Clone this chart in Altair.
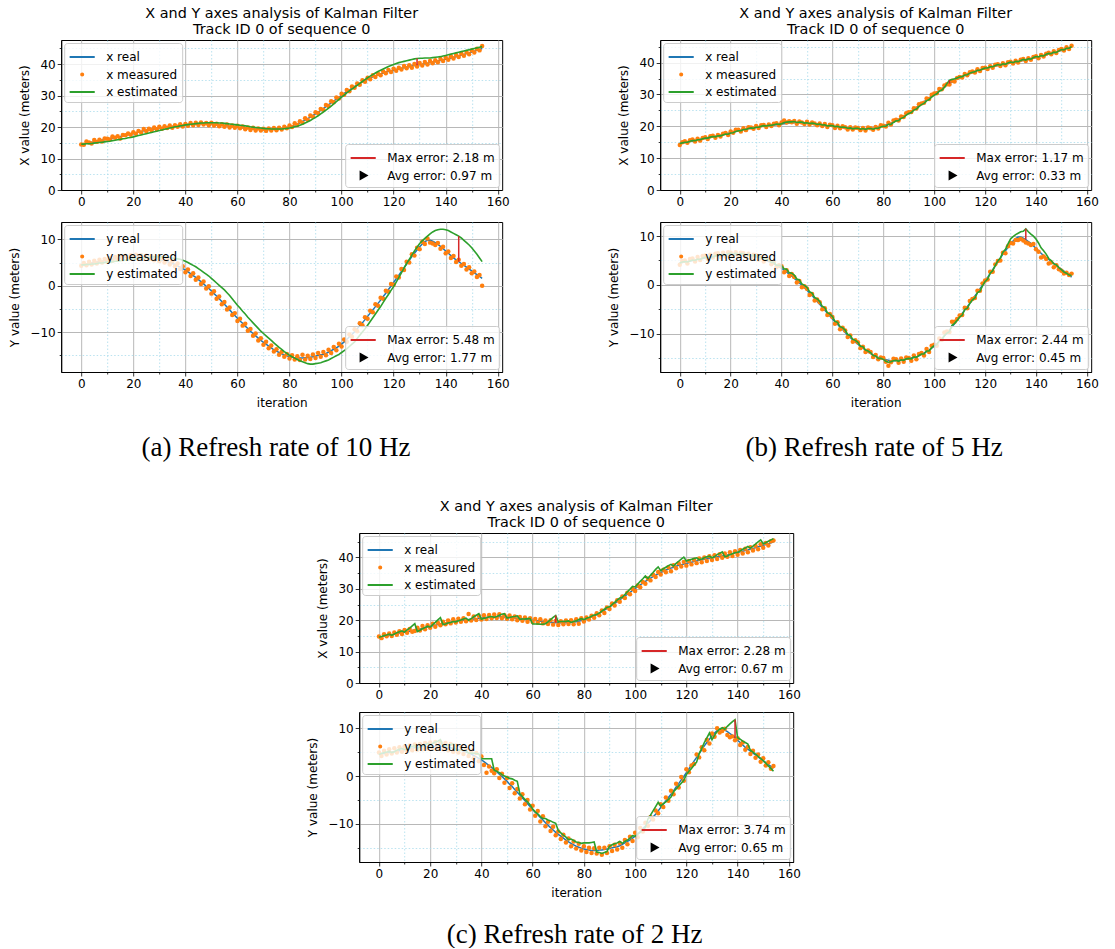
import altair as alt
import pandas as pd

ITER = list(range(155))

REAL_X = [14.6,14.7,14.9,15.0,15.2,15.3,15.5,15.7,15.9,16.0,
 16.2,16.4,16.5,16.7,16.9,17.0,17.2,17.4,17.6,17.8,
 18.0,18.2,18.4,18.6,18.8,19.0,19.1,19.3,19.4,19.6,
 19.7,19.8,19.9,20.0,20.1,20.2,20.3,20.4,20.5,20.6,
 20.7,20.8,20.9,21.0,21.0,21.1,21.1,21.1,21.1,21.0,
 21.0,20.9,20.8,20.7,20.6,20.5,20.4,20.3,20.2,20.1,
 20.0,19.9,19.8,19.7,19.6,19.5,19.4,19.3,19.3,19.2,
 19.2,19.2,19.2,19.2,19.3,19.3,19.4,19.5,19.7,19.9,
 20.1,20.4,20.7,21.0,21.4,21.8,22.2,22.7,23.2,23.7,
 24.2,24.8,25.3,25.9,26.5,27.1,27.7,28.3,28.9,29.5,
 30.1,30.7,31.3,31.8,32.4,32.9,33.4,33.9,34.4,34.8,
 35.2,35.6,36.0,36.3,36.6,36.9,37.2,37.5,37.7,37.9,
 38.1,38.3,38.5,38.7,38.9,39.1,39.2,39.4,39.6,39.7,
 39.9,40.0,40.2,40.3,40.5,40.7,40.8,41.0,41.2,41.4,
 41.6,41.8,42.0,42.2,42.4,42.7,42.9,43.1,43.4,43.6,
 43.9,44.1,44.4,44.7,45.0]

REAL_Y = [4.5,4.6,4.7,4.8,4.9,5.0,5.1,5.2,5.3,5.4,
 5.5,5.6,5.7,5.8,5.9,6.0,6.0,6.1,6.1,6.2,
 6.2,6.2,6.2,6.2,6.2,6.1,6.1,6.0,5.9,5.8,
 5.7,5.5,5.4,5.2,5.0,4.8,4.6,4.3,4.0,3.7,
 3.4,3.0,2.6,2.2,1.8,1.3,0.9,0.4,-0.1,-0.6,
 -1.1,-1.7,-2.2,-2.8,-3.4,-4.0,-4.6,-5.2,-5.8,-6.4,
 -7.0,-7.6,-8.1,-8.7,-9.2,-9.8,-10.3,-10.8,-11.3,-11.8,
 -12.2,-12.6,-13.0,-13.4,-13.8,-14.1,-14.4,-14.7,-14.9,-15.1,
 -15.3,-15.4,-15.5,-15.6,-15.6,-15.6,-15.5,-15.5,-15.4,-15.3,
 -15.2,-15.0,-14.9,-14.8,-14.6,-14.3,-14.0,-13.7,-13.4,-13.0,
 -12.6,-12.1,-11.6,-11.0,-10.5,-9.9,-9.3,-8.6,-8.0,-7.3,
 -6.6,-5.9,-5.2,-4.5,-3.8,-3.1,-2.3,-1.6,-0.8,-0.1,
 0.7,1.5,2.3,3.1,3.9,4.7,5.5,6.3,7.0,7.7,
 8.4,9.0,9.5,9.8,9.8,9.6,9.3,8.9,8.5,8.0,
 7.5,7.0,6.5,6.0,5.6,5.2,4.8,4.4,4.0,3.6,
 3.2,2.8,2.4,2.0,1.6]

# ---- (a) 10 Hz ----
MEAS_X_A = [14.5,14.4,15.4,15.1,14.8,15.9,15.3,16.0,15.4,16.4,
 16.3,16.1,17.0,16.6,17.1,16.4,17.5,17.4,18.0,17.6,
 18.4,17.9,18.8,18.3,19.4,18.7,19.5,19.0,19.9,19.3,
 20.1,19.5,20.3,19.7,20.5,19.8,20.6,20.1,20.9,20.2,
 21.0,20.4,21.3,20.6,21.4,20.7,21.5,20.8,21.3,20.6,
 21.4,20.5,21.1,20.3,20.9,20.1,20.8,19.9,20.5,19.8,
 20.4,19.6,20.2,19.3,19.9,19.1,19.8,18.9,19.6,18.9,
 19.5,18.8,19.6,18.9,19.7,19.0,19.8,19.2,20.1,19.6,
 20.5,20.0,21.2,20.7,21.9,21.4,22.8,22.3,23.7,23.3,
 24.7,24.4,25.8,25.5,27.0,26.7,28.2,27.9,29.4,29.1,
 30.6,30.3,31.8,31.4,32.9,32.5,33.9,33.5,34.9,34.4,
 35.7,35.2,36.5,35.9,37.0,36.5,37.7,37.1,38.2,37.5,
 38.6,37.9,38.9,38.3,39.4,38.7,39.7,38.9,40.1,39.3,
 40.4,39.6,40.7,39.9,41.0,40.3,41.3,40.6,41.7,41.0,
 42.1,41.4,42.5,41.8,42.9,42.3,43.4,42.7,43.9,43.2,
 44.4,43.7,44.9,44.4,45.8]

EST_X_A = [14.6,14.6,14.7,14.7,14.8,14.9,15.0,15.1,15.2,15.3,
 15.4,15.5,15.7,15.8,16.0,16.1,16.3,16.4,16.6,16.7,
 16.9,17.1,17.3,17.5,17.7,17.9,18.1,18.3,18.5,18.7,
 18.9,19.1,19.3,19.5,19.7,19.9,20.1,20.2,20.4,20.5,
 20.7,20.8,20.9,21.0,21.1,21.2,21.3,21.3,21.4,21.4,
 21.4,21.4,21.4,21.3,21.3,21.2,21.1,21.0,20.9,20.8,
 20.7,20.6,20.5,20.4,20.3,20.1,20.0,19.9,19.8,19.7,
 19.6,19.5,19.5,19.4,19.4,19.4,19.4,19.4,19.5,19.6,
 19.7,19.9,20.1,20.3,20.6,20.9,21.3,21.7,22.1,22.6,
 23.1,23.6,24.2,24.8,25.4,26.0,26.7,27.4,28.1,28.8,
 29.5,30.2,30.9,31.5,32.1,32.7,33.3,33.9,34.5,35.1,
 35.7,36.2,36.7,37.2,37.7,38.1,38.5,38.9,39.3,39.6,
 39.9,40.2,40.5,40.7,40.9,41.1,41.3,41.5,41.7,41.8,
 41.9,41.9,42.0,42.0,42.0,42.1,42.2,42.3,42.4,42.6,
 42.8,43.0,43.2,43.4,43.6,43.8,44.0,44.2,44.4,44.6,
 44.8,45.0,45.2,45.4,45.6]

MEAS_Y_A = [4.3,4.9,4.4,5.2,4.6,5.4,4.8,5.6,5.0,5.8,
 5.2,6.0,5.4,6.2,5.6,6.4,5.7,6.5,5.8,6.6,
 5.9,6.7,5.8,6.6,5.9,6.5,5.7,6.4,5.5,6.2,
 5.3,6.0,5.0,5.7,4.6,5.3,4.2,4.8,3.6,4.2,
 2.9,3.5,2.1,2.7,1.3,1.8,0.4,0.9,-0.6,-0.1,
 -1.7,-1.2,-2.8,-2.3,-4.0,-3.5,-5.1,-4.7,-6.3,-5.9,
 -7.6,-7.1,-8.6,-8.2,-9.7,-9.3,-10.8,-10.3,-11.8,-11.3,
 -12.7,-12.1,-13.5,-12.9,-14.2,-13.7,-14.9,-14.3,-15.3,-14.7,
 -15.7,-15.0,-15.9,-15.2,-16.0,-14.9,-15.9,-15.1,-15.8,-14.8,
 -15.6,-14.5,-15.3,-14.3,-15.0,-13.8,-14.5,-13.2,-13.9,-12.5,
 -13.1,-11.6,-12.1,-10.5,-11.0,-9.4,-9.8,-8.1,-8.5,-6.8,
 -7.1,-5.4,-5.7,-4.0,-4.3,-2.6,-2.8,-1.1,-1.3,0.4,
 0.2,2.0,1.8,3.6,3.4,5.2,5.0,6.8,6.5,8.2,
 7.9,9.5,9.0,10.2,9.3,9.1,8.8,9.2,8.0,8.4,
 7.0,7.4,6.0,6.4,5.1,5.6,4.3,4.7,3.5,4.0,
 2.7,3.1,1.9,2.3,0.0]

EST_Y_A = [4.5,4.5,4.6,4.6,4.7,4.7,4.8,4.9,4.9,5.0,
 5.1,5.1,5.2,5.3,5.3,5.4,5.5,5.5,5.6,5.7,
 5.8,5.8,5.9,6.0,6.0,6.1,6.1,6.2,6.2,6.2,
 6.2,6.2,6.2,6.2,6.1,6.0,5.9,5.8,5.7,5.5,
 5.3,5.0,4.7,4.4,4.1,3.7,3.3,2.9,2.5,2.1,
 1.6,1.1,0.6,0.1,-0.4,-0.9,-1.5,-2.1,-2.8,-3.5,
 -4.2,-4.8,-5.5,-6.1,-6.8,-7.4,-8.0,-8.6,-9.2,-9.8,
 -10.3,-10.8,-11.3,-11.8,-12.3,-12.8,-13.3,-13.7,-14.2,-14.6,
 -15.0,-15.3,-15.6,-15.9,-16.2,-16.4,-16.6,-16.8,-16.9,-16.9,
 -16.8,-16.7,-16.6,-16.4,-16.2,-16.0,-15.7,-15.4,-15.1,-14.8,
 -14.4,-14.0,-13.6,-13.1,-12.6,-12.1,-11.4,-10.7,-10.0,-9.3,
 -8.5,-7.7,-6.9,-6.1,-5.3,-4.5,-3.6,-2.7,-1.9,-1.0,
 -0.2,0.8,1.8,2.8,3.8,4.8,5.7,6.6,7.5,8.3,
 9.1,9.7,10.2,10.7,11.2,11.6,11.9,12.1,12.2,12.2,
 12.1,11.9,11.6,11.3,11.0,10.7,10.3,9.8,9.3,8.8,
 8.2,7.5,6.8,6.0,5.2]

# ---- (b) 5 Hz ----
MEAS_X_B = [14.1,15.0,15.3,14.8,15.6,15.9,15.2,16.1,15.5,16.3,
 16.6,16.0,16.9,17.0,16.4,17.3,16.8,17.7,17.9,17.3,
 18.4,18.0,18.9,18.9,18.4,19.4,18.8,19.7,19.6,19.2,
 20.1,19.5,20.3,20.4,19.8,20.6,20.1,20.8,21.0,20.3,
 21.2,21.8,21.2,21.6,21.3,21.7,20.8,21.5,21.2,20.7,
 21.4,20.6,21.2,20.9,20.3,20.9,20.1,20.7,19.8,20.5,
 20.3,19.5,20.2,19.4,20.0,19.7,19.0,19.7,19.0,19.6,
 19.5,18.8,19.5,18.7,19.6,19.4,18.9,19.8,19.3,20.3,
 20.2,19.9,21.1,20.6,21.8,22.1,21.8,23.1,22.9,24.1,
 24.4,24.5,25.7,25.6,26.9,27.2,27.4,28.7,28.6,29.9,
 30.3,30.4,31.7,31.6,32.8,33.2,33.1,34.3,34.1,35.2,
 35.5,35.3,36.4,36.0,37.0,37.2,36.9,37.9,37.4,38.3,
 38.4,38.0,38.9,38.4,39.3,39.5,38.9,39.8,39.2,40.1,
 40.3,39.7,40.6,40.0,40.9,41.1,40.5,41.4,40.9,41.8,
 42.0,41.4,42.4,41.9,42.8,43.1,42.6,43.6,43.0,44.0,
 44.3,43.8,44.8,44.3,45.3]

EST_X_B = [14.6,14.8,15.0,15.0,15.3,15.5,15.5,15.8,15.8,16.1,
 16.3,16.3,16.6,16.8,16.7,17.0,17.0,17.3,17.6,17.5,
 17.9,18.0,18.4,18.6,18.6,19.0,19.0,19.3,19.5,19.4,
 19.7,19.7,20.0,20.2,20.1,20.3,20.3,20.5,20.7,20.6,
 20.8,21.2,21.3,21.4,21.4,21.5,21.2,21.3,21.3,21.0,
 21.1,20.9,21.0,20.9,20.6,20.7,20.4,20.5,20.1,20.2,
 20.2,19.9,20.0,19.7,19.8,19.7,19.4,19.5,19.2,19.4,
 19.4,19.1,19.3,19.0,19.3,19.3,19.1,19.4,19.4,19.8,
 20.0,20.0,20.6,20.6,21.2,21.7,21.8,22.5,22.8,23.5,
 24.0,24.3,25.1,25.4,26.2,26.8,27.2,28.0,28.4,29.2,
 29.8,30.2,31.0,31.4,32.2,33.4,34.5,34.7,34.9,35.2,
 35.5,35.6,36.1,36.2,36.7,37.0,37.1,37.6,37.6,38.0,
 38.3,38.3,38.7,38.7,39.1,39.4,39.2,39.6,39.5,39.9,
 40.2,40.0,40.4,40.3,40.7,41.0,40.8,41.2,41.1,41.6,
 41.9,41.8,42.2,42.1,42.6,42.9,42.8,43.3,43.2,43.7,
 44.1,44.0,44.5,44.5,45.0]

MEAS_Y_B = [4.1,4.9,5.0,4.4,5.3,5.4,4.8,5.7,5.1,5.9,
 6.0,5.3,6.2,5.6,6.4,6.5,5.7,6.6,5.8,6.7,
 6.6,5.9,6.7,5.9,6.6,6.5,5.8,6.4,5.5,6.2,
 6.1,5.2,5.8,4.8,5.4,5.2,4.2,4.7,3.6,4.0,
 3.8,2.6,3.0,1.8,2.2,1.6,0.5,0.8,-0.5,-0.3,
 -0.8,-2.1,-1.9,-3.2,-3.0,-3.6,-5.0,-4.8,-6.2,-6.0,
 -6.6,-8.0,-7.7,-9.1,-8.8,-9.4,-10.7,-10.4,-11.7,-11.4,
 -11.8,-13.0,-12.7,-13.8,-13.5,-13.8,-14.8,-14.4,-15.3,-14.9,
 -15.0,-15.8,-16.6,-15.9,-15.2,-15.3,-16.0,-15.1,-15.8,-14.9,
 -15.0,-15.6,-14.5,-15.3,-14.2,-14.0,-14.5,-13.2,-13.8,-12.5,
 -12.3,-12.5,-11.0,-11.3,-9.8,-9.6,-9.7,-7.6,-7.6,-7.0,
 -6.3,-6.2,-4.7,-4.8,-3.3,-2.9,-2.7,-1.2,-1.2,0.3,
 0.9,1.1,2.7,2.7,4.2,4.9,5.0,6.6,6.5,7.9,
 8.6,8.5,9.2,9.2,9.4,9.1,8.7,8.5,8.2,8.4,
 7.3,6.8,5.6,5.8,5.3,4.4,4.6,3.6,4.0,3.2,
 2.9,2.3,2.5,2.0,2.3]

EST_Y_B = [4.5,4.7,4.8,4.7,4.9,5.1,5.0,5.3,5.2,5.5,
 5.7,5.5,5.8,5.7,6.0,6.2,6.0,6.3,6.1,6.4,
 6.5,6.2,6.5,6.2,6.4,6.4,6.1,6.3,5.9,6.1,
 6.0,5.6,5.7,5.2,5.3,5.2,4.6,4.6,4.0,4.0,
 3.9,3.3,3.2,2.5,2.4,2.0,1.2,1.0,0.2,-0.1,
 -0.5,-1.4,-1.7,-2.6,-2.9,-3.4,-4.4,-4.7,-5.7,-6.0,
 -6.5,-7.5,-7.7,-8.6,-8.8,-9.3,-10.2,-10.4,-11.2,-11.4,
 -11.8,-12.6,-12.7,-13.4,-13.6,-13.9,-14.5,-14.6,-15.1,-15.1,
 -15.3,-15.7,-15.9,-15.8,-15.6,-15.5,-15.7,-15.4,-15.5,-15.2,
 -15.1,-15.2,-14.8,-14.9,-14.5,-14.2,-14.2,-13.6,-13.6,-12.9,
 -12.5,-12.3,-11.5,-11.3,-10.4,-9.9,-9.6,-8.3,-7.9,-7.3,
 -6.6,-6.2,-5.1,-4.8,-3.8,-3.1,-2.7,-1.6,-1.3,-0.2,
 0.7,1.2,2.4,2.9,4.0,4.9,5.5,6.7,7.3,8.4,
 9.4,9.9,10.3,10.6,10.9,11.0,11.5,10.9,10.4,10.0,
 9.4,8.6,7.6,7.0,6.3,5.4,5.0,4.3,4.1,3.5,
 3.1,2.6,2.4,2.0,1.9]

# ---- (c) 2 Hz ----
MEAS_X_C = [14.8,14.3,15.5,14.9,15.8,15.0,16.1,15.4,16.5,15.6,
 16.9,16.0,17.2,16.3,16.6,17.6,16.7,18.2,17.1,18.4,
 17.6,18.9,17.9,19.2,18.4,19.5,18.7,19.9,19.0,20.3,
 19.3,20.5,19.5,20.6,19.7,22.0,19.9,21.2,20.1,21.4,
 20.2,21.6,20.4,21.7,20.6,21.8,20.7,21.9,20.6,21.6,
 20.5,21.5,20.3,21.2,20.0,21.0,19.8,20.9,19.5,20.6,
 19.4,20.4,19.2,20.3,19.0,19.9,18.8,20.0,18.6,19.8,
 18.5,19.7,18.7,19.9,18.8,20.0,18.7,20.3,18.9,20.6,
 19.6,20.9,20.2,21.4,20.8,22.2,21.6,23.1,22.3,24.1,
 23.6,25.3,24.7,26.4,25.9,27.6,27.1,28.8,28.3,30.0,
 29.3,31.1,30.5,32.2,31.6,33.3,32.7,34.5,33.8,35.4,
 34.6,36.1,35.3,36.9,35.6,37.5,36.6,38.2,37.1,38.6,
 37.4,38.9,37.8,39.3,38.2,39.7,38.5,40.0,38.9,40.4,
 39.2,40.7,39.5,41.0,39.9,41.3,40.2,41.7,40.5,42.0,
 40.9,42.4,41.3,42.8,41.7,43.3,42.2,43.7,42.6,44.2,
 43.1,44.6,43.8,45.2,45.4]

EST_X_C = [14.6,14.8,15.1,15.3,15.6, 15.2,15.6,16.0,16.3,16.6,
 16.2,16.9,17.5,18.2,18.9, 16.4,16.8,17.3,17.7,18.1,
 17.8,18.6,19.3,20.1,20.8, 18.6,18.8,19.1,19.3,19.6,
 19.5,19.8,20.1,20.4,20.7, 20.0,20.5,21.1,21.6,22.1,
 20.3,20.6,20.8,21.1,21.2, 20.9,21.2,21.6,21.9,22.1,
 20.7,20.9,21.1,21.2,21.4, 20.3,20.4,20.4,20.5,20.5,
 18.8,18.8,18.8,18.7,18.7, 18.9,19.5,20.2,20.9,21.5,
 19.5,19.6,19.6,19.7,19.8, 19.3,19.6,19.8,20.2,20.5,
 20.2,20.6,20.9,21.3,21.7, 21.8,22.3,22.9,23.5,24.1,
 24.3,25.0,25.7,26.4,27.1, 27.3,28.2,29.1,29.9,30.8,
 30.6,31.5,32.4,33.2,34.1, 33.3,34.3,35.2,36.2,37.0,
 35.8,36.4,36.9,37.4,37.8, 37.3,38.1,38.8,39.5,40.1,
 38.9,39.2,39.4,39.7,39.9, 39.3,39.5,39.9,40.2,40.4,
 39.9,40.3,40.9,41.3,41.8, 40.2,40.5,40.9,41.2,41.6,
 41.6,42.1,42.6,43.0,43.5, 43.0,43.6,44.3,45.0,45.6,
 44.4,44.7,45.2,45.6,46.0]

MEAS_Y_C = [4.9,4.2,5.3,4.5,5.6,4.7,5.8,4.9,6.0,5.1,
 6.2,5.2,6.4,5.4,6.6,5.5,6.7,5.6,6.9,5.7,
 7.0,5.7,7.1,5.8,7.0,5.6,6.9,5.4,6.7,5.1,
 6.4,4.9,6.1,4.6,5.7,4.2,5.3,3.7,4.8,3.1,
 4.1,2.3,0.7,2.0,1.1,0.6,1.4,-0.4,0.5,-1.4,
 -0.4,-2.5,-1.5,-3.6,-2.7,-4.7,-3.8,-5.9,-5.0,-7.0,
 -6.2,-8.3,-7.3,-9.5,-8.4,-10.5,-9.6,-11.5,-10.6,-12.4,
 -11.6,-13.2,-12.3,-13.9,-13.1,-14.7,-13.7,-15.2,-14.2,-15.6,
 -14.7,-15.9,-15.0,-16.1,-15.1,-16.2,-15.0,-16.5,-15.0,-16.1,
 -14.7,-15.7,-14.4,-15.4,-14.0,-15.0,-13.4,-14.3,-12.7,-13.6,
 -11.9,-12.8,-10.9,-11.6,-9.8,-10.4,-8.6,-9.1,-7.2,-7.8,
 -5.9,-6.5,-4.5,-5.2,-3.1,-3.8,-1.6,-2.4,-0.2,-1.0,
 1.4,0.8,2.2,2.5,4.5,3.9,6.0,5.4,7.6,6.8,
 8.9,8.2,10.0,9.1,9.4,9.9,8.6,8.1,8.3,7.5,
 7.9,6.5,7.0,5.5,6.1,4.6,5.3,3.8,4.5,3.0,
 3.7,2.2,2.9,1.5,2.1]

EST_Y_C = [4.5,4.7,4.9,5.0,5.2, 4.9,5.1,5.4,5.6,5.8,
 5.5,5.7,6.0,6.2,6.4, 5.8,6.0,6.3,6.5,6.8,
 6.5,6.8,7.1,7.3,7.6, 6.2,6.4,6.5,6.6,6.7,
 5.5,5.4,5.5,5.4,5.3, 4.8,4.8,4.8,4.7,4.6,
 3.6,3.6,3.6,3.6,3.6, 1.2,1.0,0.7,0.3,0.0,
 -0.2,-0.5,-0.6,-0.9,-1.1, -3.7,-4.3,-4.9,-5.4,-6.0,
 -6.9,-7.5,-7.9,-8.5,-8.9, -8.9,-9.2,-9.4,-9.7,-9.9,
 -11.4,-11.9,-12.4,-12.8,-13.3, -13.2,-13.5,-13.8,-13.9,-14.1,
 -14.0,-14.0,-14.0,-13.9,-13.8, -15.9,-16.0,-16.2,-16.0,-15.8,
 -14.7,-14.4,-14.2,-14.0,-13.7, -14.1,-13.7,-13.4,-13.0,-12.5,
 -12.6,-12.2,-11.8,-11.2,-10.8, -9.0,-8.2,-7.3,-6.4,-5.5,
 -6.3,-5.8,-5.4,-4.9,-4.4, -3.3,-2.7,-2.1,-1.5,-0.9,
 0.3,1.0,1.6,2.3,2.9, 4.7,5.8,7.0,8.0,9.0,
 7.6,8.5,9.3,9.8,10.1, 9.8,10.4,10.9,11.4,11.8,
 8.0,7.7,7.3,7.0,6.7, 5.4,5.0,4.6,4.1,3.7,
 3.2,2.7,2.1,1.6,1.0]

# iteration of the max-error marker in each panel
ERR_ITER = {"ax": 129, "ay": 145, "bx": 106, "by": 136, "cx": 69, "cy": 139}
ERR_TEXT = {
    "ax": ["Max error: 2.18 m", "Avg error: 0.97 m"],
    "ay": ["Max error: 5.48 m", "Avg error: 1.77 m"],
    "bx": ["Max error: 1.17 m", "Avg error: 0.33 m"],
    "by": ["Max error: 2.44 m", "Avg error: 0.45 m"],
    "cx": ["Max error: 2.28 m", "Avg error: 0.67 m"],
    "cy": ["Max error: 3.74 m", "Avg error: 0.65 m"],
}
CAPTIONS = ["(a) Refresh rate of 10 Hz", "(b) Refresh rate of 5 Hz", "(c) Refresh rate of 2 Hz"]
TITLE_LINES = ["X and Y axes analysis of Kalman Filter", "Track ID 0 of sequence 0"]

BLUE, ORANGE, GREEN, RED = "#1f77b4", "#ff7f0e", "#2ca02c", "#d62728"
LINE_PATH = "M-1.45,0L1.45,0"
DOT_PATH = "M-0.12,0A0.12,0.12,0,1,0,0.12,0A0.12,0.12,0,1,0,-0.12,0Z"
TRI_PATH = "M-0.3,-0.38L0.38,0L-0.3,0.38Z"
FONT = "DejaVu Sans"
X_DOMAIN = [-7.7, 161.7]
X_TICKS = list(range(0, 161, 10))
Y_TICKS_TOP = list(range(0, 46, 5))
Y_TICKS_BOT = list(range(-15, 11, 5))

LEG = dict(title=None, offset=3, padding=4, fillColor="rgba(255,255,255,0.8)",
           strokeColor="#cccccc", cornerRadius=3, labelFont=FONT, labelFontSize=12,
           labelColor="#000000", symbolSize=300, symbolStrokeWidth=2, symbolOffset=4,
           labelOffset=14, rowPadding=1.5, symbolOpacity=1, labelLimit=300)


def cond(test, a, b):
    return {"condition": {"test": test, "value": a}, "value": b}


def make_x_axis(title):
    t = "datum.value % 20 === 0"
    kw = dict(values=X_TICKS, format="d", labelExpr=f"{t} ? datum.label : ''",
              grid=True, gridColor=cond(t, "#b8b8b8", "#a9dcec"),
              gridDash=cond(t, [], [1.5, 2]), gridWidth=cond(t, 1, 0.8),
              tickSize=cond(t, 4, 2), labelFlush=False, labelOverlap=False, labelPadding=2)
    if title:
        kw.update(title=title, titlePadding=8)
    else:
        kw.update(title=None)
    return alt.Axis(**kw)


def make_y_axis(title, ticks):
    t = "datum.value % 10 === 0"
    return alt.Axis(values=ticks, format="d", labelExpr=f"{t} ? datum.label : ''",
                    grid=True, gridColor=cond(t, "#b8b8b8", "#a9dcec"),
                    gridDash=cond(t, [], [1.5, 2]), gridWidth=cond(t, 1, 0.8),
                    tickSize=cond(t, 4, 2), labelFlush=False, labelOverlap=False,
                    labelPadding=2, title=title, titlePadding=8)


def panel(axis, key, real, meas, est, ydom, yticks, w, h, xtitle=None, title=None):
    names = [f"{axis} real", f"{axis} measured", f"{axis} estimated"]
    errs = ERR_TEXT[key]
    ei = ERR_ITER[key]
    df = pd.DataFrame({"iteration": ITER, "real": real, "measured": meas,
                       "estimated": est, "series": names[1]})
    edf = pd.DataFrame({"iteration": [ei], "lo": [real[ei]], "hi": [est[ei]], "err": [errs[0]]})
    xs = alt.Scale(domain=X_DOMAIN, nice=False, zero=False)
    ys = alt.Scale(domain=ydom, nice=False, zero=False)
    xa = make_x_axis(xtitle)
    ya = make_y_axis(f"{axis.upper()} value (meters)", yticks)
    X = alt.X("iteration:Q", scale=xs, axis=xa)

    base = alt.Chart(df)
    real_l = base.mark_line(color=BLUE, strokeWidth=1.5).encode(
        x=X, y=alt.Y("real:Q", scale=ys, axis=ya))
    pts = base.mark_circle(color=ORANGE, size=20, opacity=1).encode(
        x=X, y=alt.Y("measured:Q", scale=ys, axis=ya))
    est_l = base.mark_line(color=GREEN, strokeWidth=1.6).encode(
        x=X, y=alt.Y("estimated:Q", scale=ys, axis=ya))
    rule = alt.Chart(edf).mark_rule(color=RED, strokeWidth=1.5).encode(
        x=X, y=alt.Y("lo:Q", scale=ys, axis=ya), y2="hi:Q")
    # legend-only layers (no marks drawn)
    leg_main = base.transform_filter("false").mark_point(filled=False, size=300, opacity=1).encode(
        x=X, y=alt.Y("measured:Q", scale=ys, axis=ya),
        color=alt.Color("series:N", scale=alt.Scale(domain=names, range=[BLUE, ORANGE, GREEN]),
                        legend=alt.Legend(orient="top-left", **LEG)),
        shape=alt.Shape("series:N", scale=alt.Scale(domain=names, range=[LINE_PATH, DOT_PATH, LINE_PATH]),
                        legend=alt.Legend(orient="top-left", **LEG)))
    sym_expr = f"datum.index === 0 ? '{LINE_PATH}' : '{TRI_PATH}'"
    leg_err = alt.Chart(edf).transform_filter("false").mark_point(filled=True, size=300, opacity=1).encode(
        x=X, y=alt.Y("lo:Q", scale=ys, axis=ya),
        fill=alt.Fill("err:N", scale=alt.Scale(domain=errs, range=[RED, "#000000"]),
                      legend=alt.Legend(orient="bottom-right", symbolType=alt.ExprRef(expr=sym_expr), **LEG)),
        stroke=alt.Stroke("err:N", scale=alt.Scale(domain=errs, range=[RED, "#000000"]),
                          legend=alt.Legend(orient="bottom-right", symbolType=alt.ExprRef(expr=sym_expr), **LEG)))
    ch = alt.layer(real_l, pts, est_l, rule, leg_main, leg_err).properties(width=w, height=h)
    if title:
        ch = ch.properties(title=alt.TitleParams(title, font=FONT, fontSize=14.4, fontWeight="normal",
                                                 color="#000000", lineHeight=16, offset=3, anchor="middle"))
    return ch


IND = dict(color="independent", shape="independent", fill="independent", stroke="independent")


def figure(tag, mx, ex, my, ey, ytop, ybot, w, caption, dx, gap, cap_off):
    top = panel("x", tag + "x", REAL_X, mx, ex, ytop, Y_TICKS_TOP, w, 150, title=TITLE_LINES)
    bot = panel("y", tag + "y", REAL_Y, my, ey, ybot, Y_TICKS_BOT, w, 150, xtitle="iteration")
    return alt.vconcat(top, bot, spacing=gap).resolve_scale(**IND).properties(
        title=alt.TitleParams(caption, orient="bottom", font="Liberation Serif", fontSize=27,
                              fontWeight="normal", color="#000000", offset=cap_off, anchor="middle", dx=dx))


figA = figure("a", MEAS_X_A, EST_X_A, MEAS_Y_A, EST_Y_A, [0, 47.7], [-18.6, 13.75], 441, CAPTIONS[0], 17, 13, 26)
figB = figure("b", MEAS_X_B, EST_X_B, MEAS_Y_B, EST_Y_B, [0, 47.1], [-17.9, 12.9], 431, CAPTIONS[1], 21, 13, 26)
figC = figure("c", MEAS_X_C, EST_X_C, MEAS_Y_C, EST_Y_C, [0, 47.8], [-18.0, 13.4], 434, CAPTIONS[2], 21, 10, 23)

row1 = alt.hconcat(figA, figB, spacing=97).resolve_scale(**IND)
chart = alt.vconcat(row1, figC, spacing=37, center=True).resolve_scale(**IND).properties(
    padding={"left": 8, "top": 5, "right": 0, "bottom": 0}, background="white"
).configure_view(stroke="#000000", strokeWidth=1).configure_axis(
    labelFont=FONT, labelFontSize=12, labelColor="#000000", titleFont=FONT, titleFontSize=12,
    titleFontWeight="normal", titleColor="#000000", tickColor="#000000", domainColor="#000000",
    tickWidth=0.8, domainWidth=1)

chart.save("out.html", embed_options={"renderer": "svg", "actions": False})
